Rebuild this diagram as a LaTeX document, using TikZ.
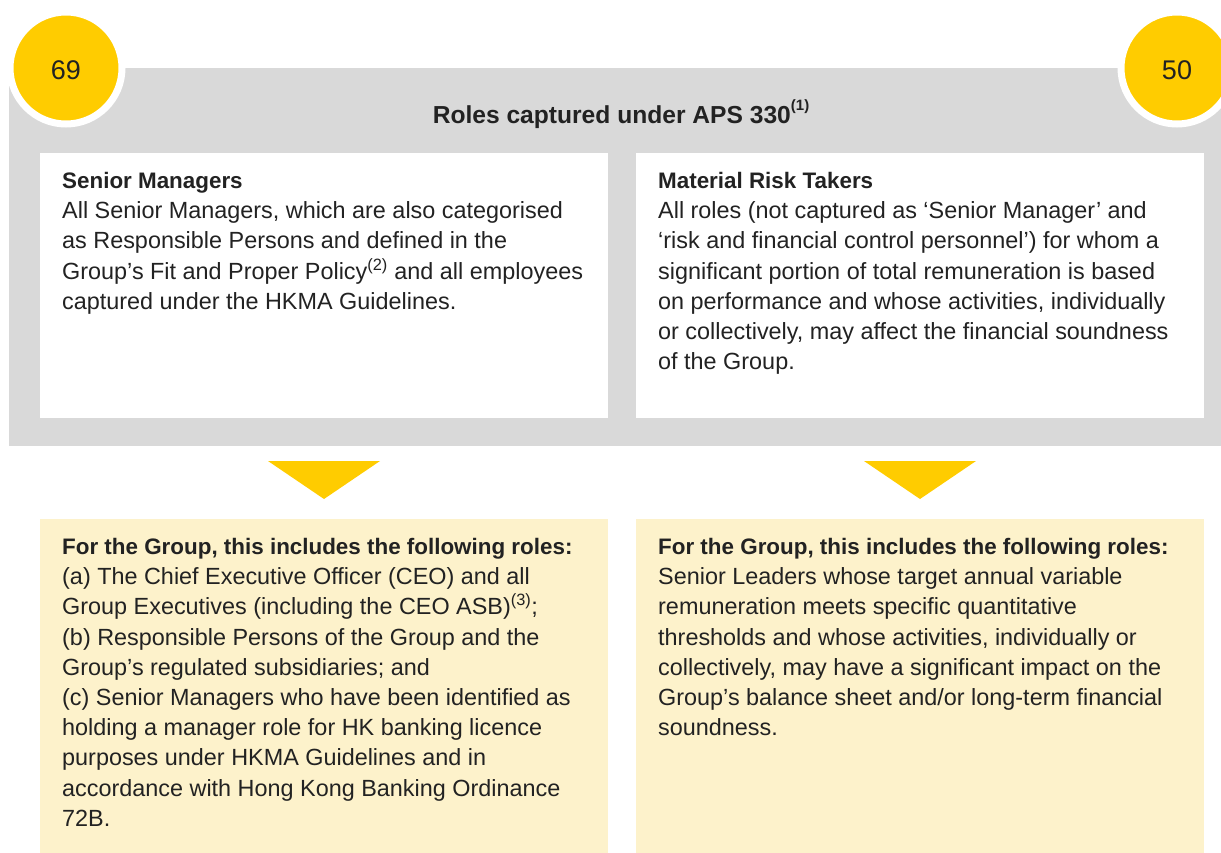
\documentclass[tikz,border=0pt]{standalone}
\usepackage{fontspec}
\setmainfont{Liberation Sans}
\definecolor{gold}{HTML}{FFCC00}
\definecolor{panelgray}{HTML}{D9D9D9}
\definecolor{paleyellow}{HTML}{FDF2CB}
\definecolor{ink}{HTML}{222222}
\newcommand\hd[1]{{\fontsize{22.4}{30.2}\selectfont\bfseries #1}}
\tikzset{
  box/.style={rectangle, anchor=north west, inner sep=0pt, minimum width=568pt},
  txt/.style={anchor=north west, inner sep=0pt, align=left, text=ink, font=\fontsize{23.4}{30.2}\selectfont},
  badge/.style={circle, fill=gold, draw=white, line width=7pt, minimum size=112pt, inner sep=0pt},
  num/.style={text=ink, font=\fontsize{27}{27}\selectfont, inner sep=0pt},
}
\begin{document}
\begin{tikzpicture}[x=1pt,y=-1pt]
\clip (0,0) rectangle (1221,852);
\fill[white] (0,0) rectangle (1221,852);
% grey panel
\node[rectangle, anchor=north west, inner sep=0pt, fill=panelgray, minimum width=1212pt, minimum height=378pt] (panel) at (9,68) {};
% badges
\node[badge] (c69) at (66,68) {};
\node[num] (n69) at (66,70) {69};
\node[badge] (c50) at (1177,68) {};
\node[num] (n50) at (1177,70) {50};
% title
\node[anchor=base, inner sep=0pt, text=ink, font=\fontsize{24.6}{28}\selectfont\bfseries] (title) at (621,123) {Roles captured under APS 330\raisebox{13pt}{\fontsize{15}{15}\selectfont (1)}};
% white boxes
\node[box, fill=white, minimum height=265pt] (smbox) at (40,153) {};
\node[box, fill=white, minimum height=265pt] (mrtbox) at (636,153) {};
% yellow boxes
\node[box, fill=paleyellow, minimum height=340pt] (yl) at (40,519) {};
\node[box, fill=paleyellow, minimum height=340pt] (yr) at (636,519) {};
% triangles
\fill[gold] (268,461) -- (380,461) -- (324,499) -- cycle;
\fill[gold] (864,461) -- (976,461) -- (920,499) -- cycle;
% texts
\node[txt] (smtext) at (62,172) {\hd{Senior Managers}\\
All Senior Managers, which are also categorised\\
as Responsible Persons and defined in the\\
Group’s Fit and Proper Policy\textsuperscript{(2)} and all employees\\
captured under the HKMA Guidelines.};
\node[txt] (mrttext) at (658,172) {\hd{Material Risk Takers}\\
All roles (not captured as ‘Senior Manager’ and\\
‘risk and financial control personnel’) for whom a\\
significant portion of total remuneration is based\\
on performance and whose activities, individually\\
or collectively, may affect the financial soundness\\
of the Group.};
\node[txt] (yltext) at (62,538) {\hd{For the Group, this includes the following roles:}\\
(a) The Chief Executive Officer (CEO) and all\\
Group Executives (including the CEO ASB)\textsuperscript{(3)};\\
(b) Responsible Persons of the Group and the\\
Group’s regulated subsidiaries; and\\
(c) Senior Managers who have been identified as\\
holding a manager role for HK banking licence\\
purposes under HKMA Guidelines and in\\
accordance with Hong Kong Banking Ordinance\\
72B.};
\node[txt] (yrtext) at (658,538) {\hd{For the Group, this includes the following roles:}\\
Senior Leaders whose target annual variable\\
remuneration meets specific quantitative\\
thresholds and whose activities, individually or\\
collectively, may have a significant impact on the\\
Group’s balance sheet and/or long-term financial\\
soundness.};
\end{tikzpicture}
\end{document}
